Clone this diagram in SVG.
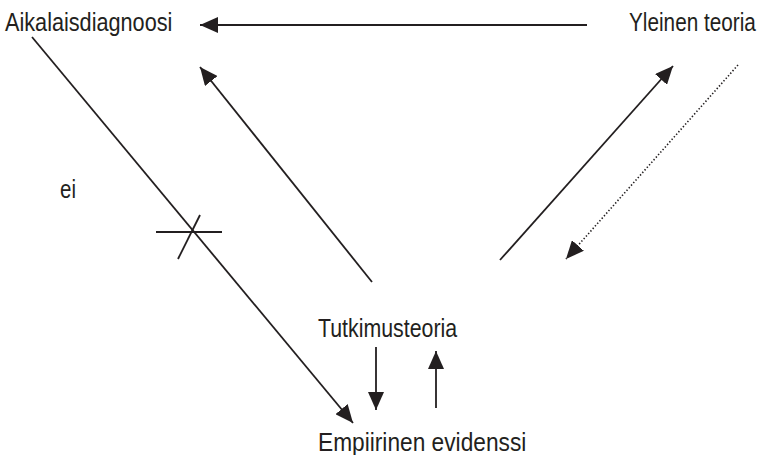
<svg xmlns="http://www.w3.org/2000/svg" width="764" height="455" viewBox="0 0 764 455">
<style>
text{font-family:"Liberation Sans",Arial,Helvetica,sans-serif;font-size:25px;fill:#231f20}
.c line{stroke:#231f20;stroke-width:1.8;fill:none}
.c .dot{stroke-width:1.6;stroke-dasharray:1.4 2}
</style>
<defs>
<marker id="ah" viewBox="0 0 18 16" refX="18" refY="8" markerWidth="18" markerHeight="16" markerUnits="userSpaceOnUse" orient="auto">
<path d="M0,0 L18,8 L0,16 z" fill="#231f20"/>
</marker>
</defs>
<rect width="764" height="455" fill="#fff"/>
<g id="aikalaisdiagnoosi"><text transform="translate(5,31) scale(0.867,1)">Aikalaisdiagnoosi</text></g>
<g id="yleinen-teoria"><text transform="translate(629,31) scale(0.83,1)">Yleinen teoria</text></g>
<g id="tutkimusteoria"><text transform="translate(318,337) scale(0.854,1)">Tutkimusteoria</text></g>
<g id="empiirinen-evidenssi"><text transform="translate(318,451) scale(0.909,1)">Empiirinen evidenssi</text></g>
<g id="ei-label"><text transform="translate(60,198) scale(0.82,1)">ei</text></g>
<g class="c" id="connectors">
<line x1="587" y1="25" x2="200" y2="25" marker-end="url(#ah)"/>
<line x1="32" y1="37" x2="353" y2="423" marker-end="url(#ah)"/>
<line x1="156" y1="232" x2="222" y2="232"/>
<line x1="178" y1="259" x2="200" y2="215"/>
<line x1="372" y1="282" x2="200" y2="67" marker-end="url(#ah)"/>
<line x1="500" y1="260" x2="673" y2="66" marker-end="url(#ah)"/>
<line class="dot" x1="738" y1="65" x2="566" y2="259" marker-end="url(#ah)"/>
<line x1="376" y1="347" x2="376" y2="410" marker-end="url(#ah)"/>
<line x1="436" y1="408" x2="436" y2="351" marker-end="url(#ah)"/>
</g>
</svg>
